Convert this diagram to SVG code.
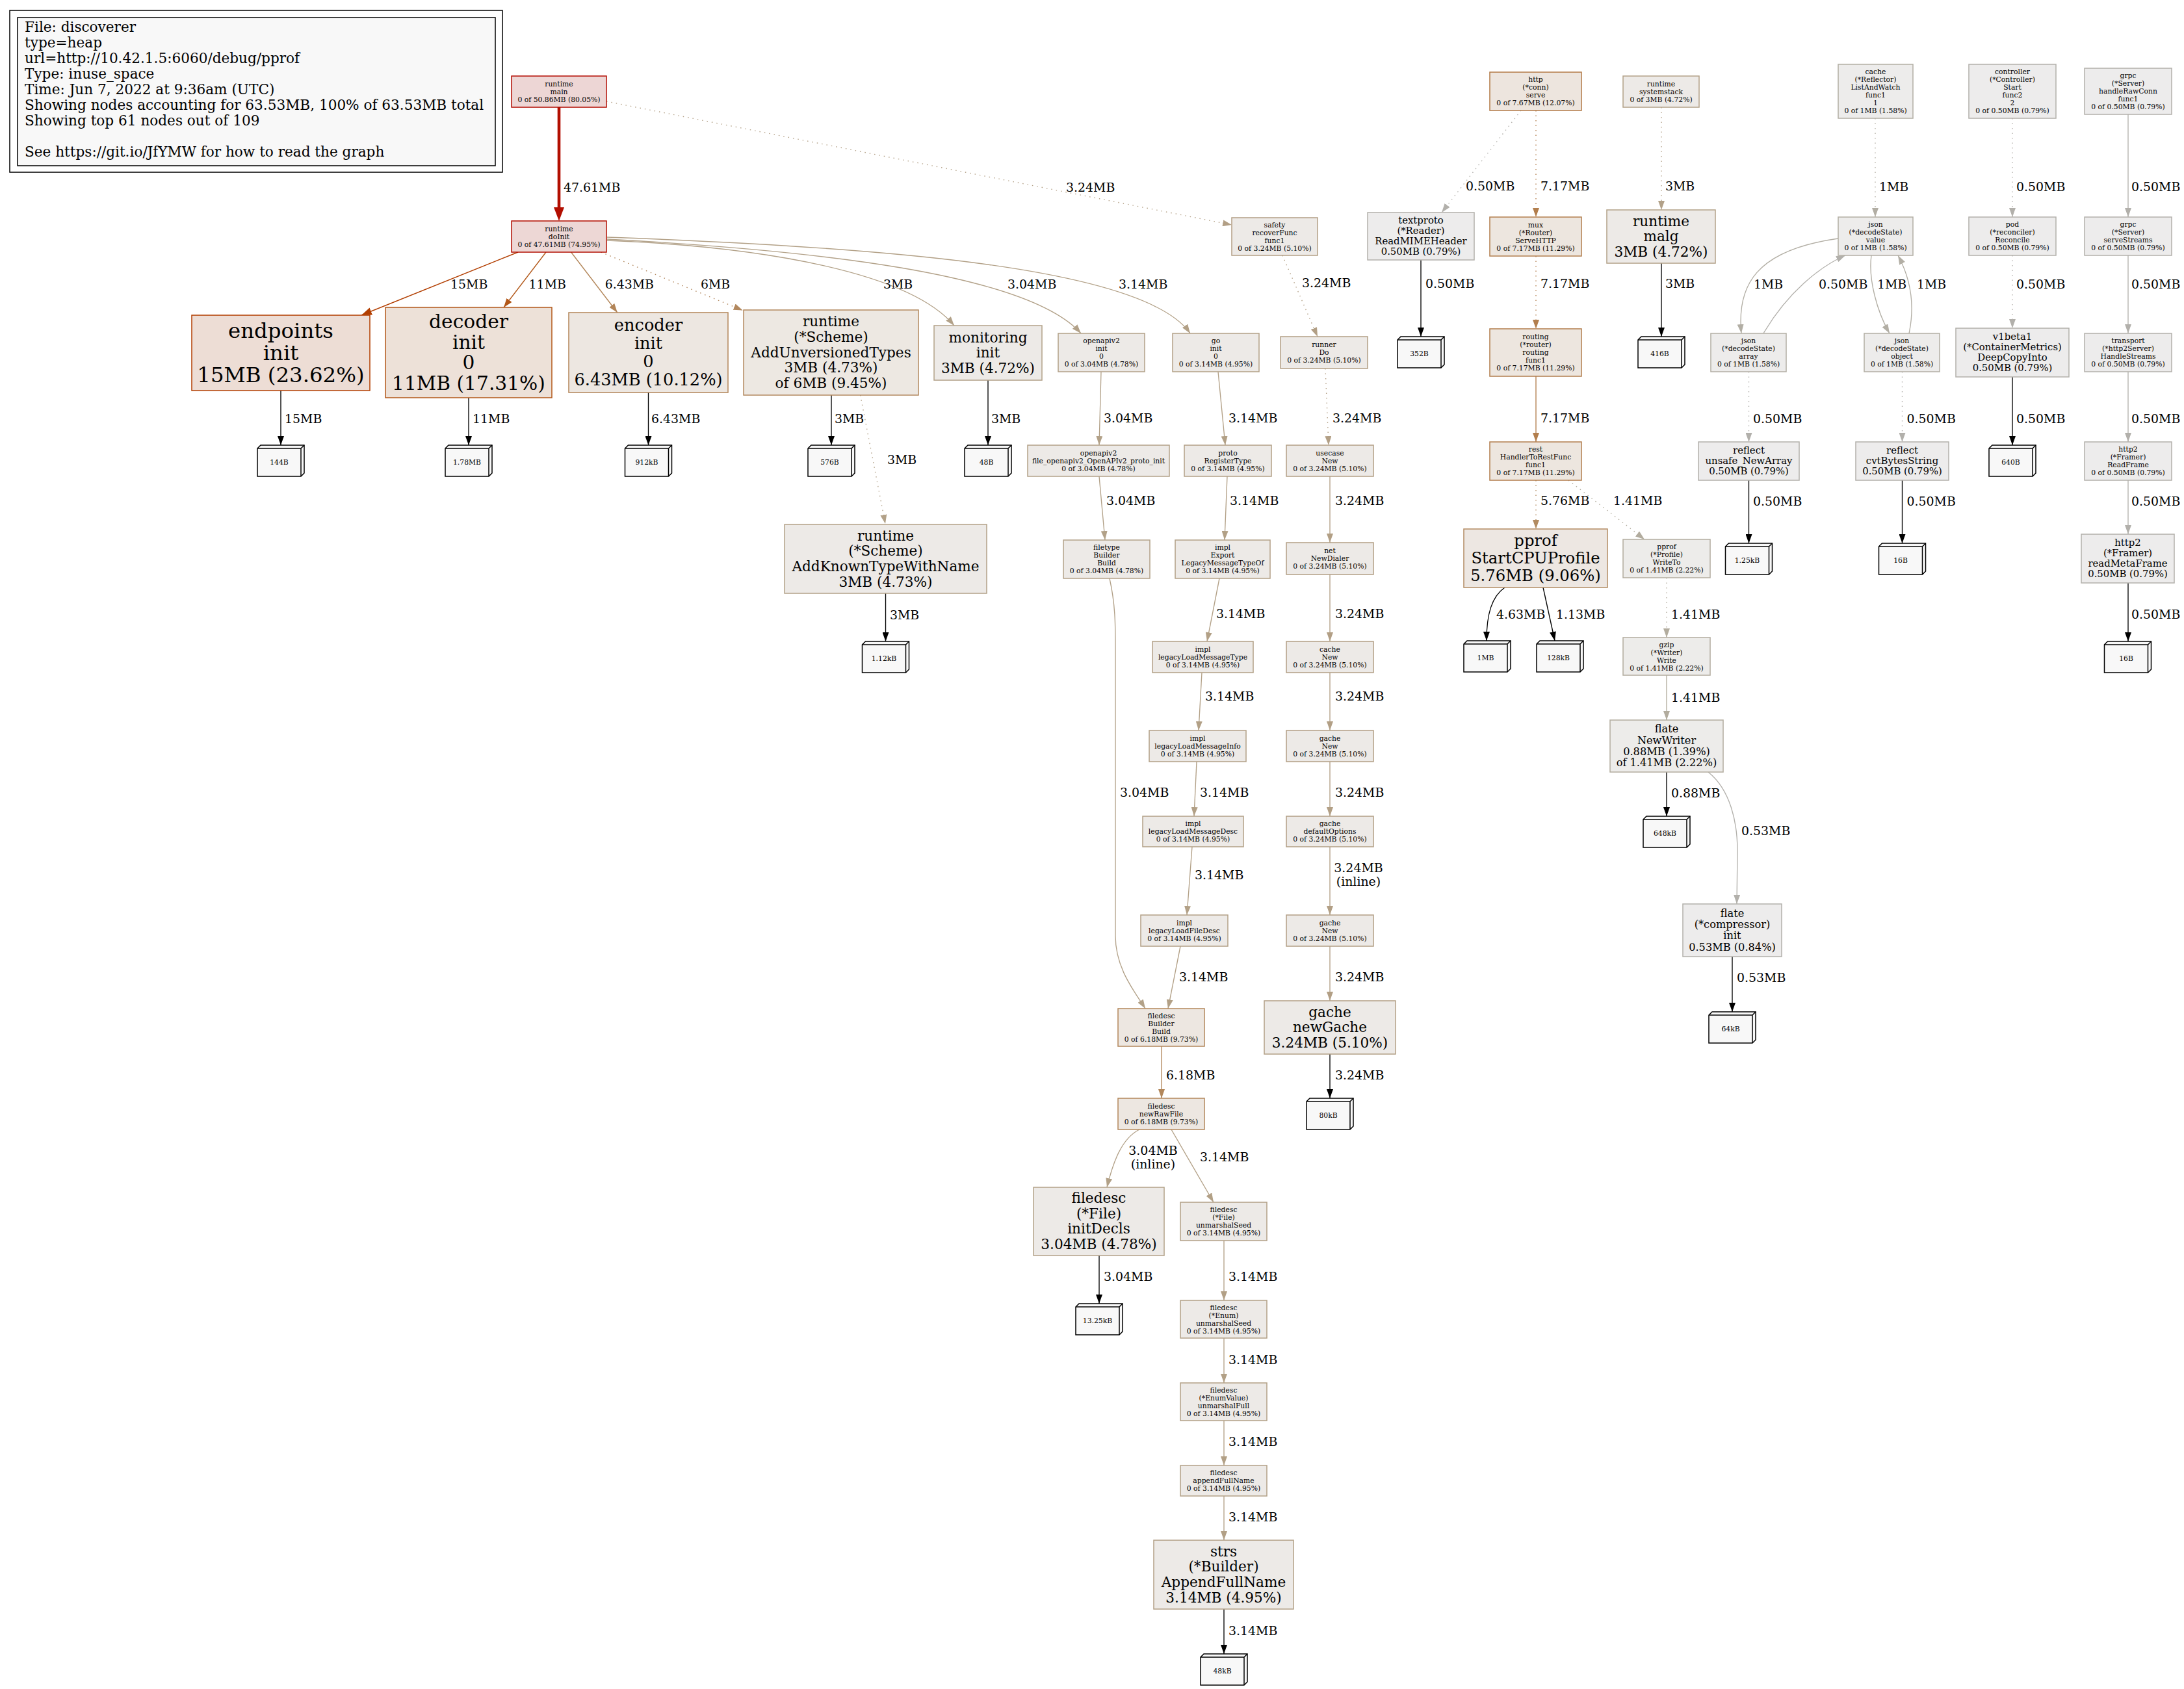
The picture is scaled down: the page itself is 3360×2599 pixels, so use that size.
<svg xmlns="http://www.w3.org/2000/svg" width="3360" height="2599" viewBox="0 0 3360 2599">
<style>
text{font-family:"DejaVu Serif","Liberation Serif",serif;fill:#000}
.node text{text-anchor:middle}
.node rect{stroke-width:1.5}
.f1{font-size:10.8px}.f2{font-size:14.85px}.f3{font-size:16.2px}.f4{font-size:21.6px}.f5{font-size:24.3px}.f6{font-size:25.65px}.f7{font-size:29.7px}.f8{font-size:32.4px}
.lg{font-size:21.6px}
.el{font-size:18.9px}
.elm{font-size:18.9px;text-anchor:middle}
.leaf path{fill:#f8f8f8;stroke:#000;stroke-width:1.5}
.leaf path.in{fill:none}
.leaf text{font-size:10.8px;text-anchor:middle}
.e{fill:none;stroke-width:1.35}
.d{stroke-dasharray:1.5,6}
.k{stroke:#000;marker-end:url(#m-k)}
</style>
<defs>
<marker id="m-k" markerUnits="userSpaceOnUse" viewBox="0 0 14 10" markerWidth="14" markerHeight="10" refX="14" refY="5" orient="auto"><path d="M0,0L14,5L0,10Z" fill="#000"/></marker>
<marker id="m-b23e00" markerUnits="userSpaceOnUse" viewBox="0 0 16 12" markerWidth="16" markerHeight="12" refX="16" refY="6" orient="auto"><path d="M0,0L16,6L0,12Z" fill="#b23e00"/></marker>
<marker id="m-b25718" markerUnits="userSpaceOnUse" viewBox="0 0 14 10" markerWidth="14" markerHeight="10" refX="14" refY="5" orient="auto"><path d="M0,0L14,5L0,10Z" fill="#b25718"/></marker>
<marker id="m-b28558" markerUnits="userSpaceOnUse" viewBox="0 0 14 10" markerWidth="14" markerHeight="10" refX="14" refY="5" orient="auto"><path d="M0,0L14,5L0,10Z" fill="#b28558"/></marker>
<marker id="m-b2885e" markerUnits="userSpaceOnUse" viewBox="0 0 14 10" markerWidth="14" markerHeight="10" refX="14" refY="5" orient="auto"><path d="M0,0L14,5L0,10Z" fill="#b2885e"/></marker>
<marker id="m-b2a188" markerUnits="userSpaceOnUse" viewBox="0 0 14 10" markerWidth="14" markerHeight="10" refX="14" refY="5" orient="auto"><path d="M0,0L14,5L0,10Z" fill="#b2a188"/></marker>
<marker id="m-b2a086" markerUnits="userSpaceOnUse" viewBox="0 0 14 10" markerWidth="14" markerHeight="10" refX="14" refY="5" orient="auto"><path d="M0,0L14,5L0,10Z" fill="#b2a086"/></marker>
<marker id="m-b29f85" markerUnits="userSpaceOnUse" viewBox="0 0 14 10" markerWidth="14" markerHeight="10" refX="14" refY="5" orient="auto"><path d="M0,0L14,5L0,10Z" fill="#b29f85"/></marker>
<marker id="m-b2875b" markerUnits="userSpaceOnUse" viewBox="0 0 14 10" markerWidth="14" markerHeight="10" refX="14" refY="5" orient="auto"><path d="M0,0L14,5L0,10Z" fill="#b2875b"/></marker>
<marker id="m-b27e4d" markerUnits="userSpaceOnUse" viewBox="0 0 14 10" markerWidth="14" markerHeight="10" refX="14" refY="5" orient="auto"><path d="M0,0L14,5L0,10Z" fill="#b27e4d"/></marker>
<marker id="m-b28b61" markerUnits="userSpaceOnUse" viewBox="0 0 14 10" markerWidth="14" markerHeight="10" refX="14" refY="5" orient="auto"><path d="M0,0L14,5L0,10Z" fill="#b28b61"/></marker>
<marker id="m-b2ac9e" markerUnits="userSpaceOnUse" viewBox="0 0 14 10" markerWidth="14" markerHeight="10" refX="14" refY="5" orient="auto"><path d="M0,0L14,5L0,10Z" fill="#b2ac9e"/></marker>
<marker id="m-b2aea4" markerUnits="userSpaceOnUse" viewBox="0 0 14 10" markerWidth="14" markerHeight="10" refX="14" refY="5" orient="auto"><path d="M0,0L14,5L0,10Z" fill="#b2aea4"/></marker>
<marker id="m-b2b0ab" markerUnits="userSpaceOnUse" viewBox="0 0 14 10" markerWidth="14" markerHeight="10" refX="14" refY="5" orient="auto"><path d="M0,0L14,5L0,10Z" fill="#b2b0ab"/></marker>
</defs>
<rect width="3360" height="2599" fill="#fff"/>

<g id="legend">
<rect x="15" y="16" width="758" height="249" fill="none" stroke="#000" stroke-width="1.5"/>
<rect x="27" y="27" width="735" height="228" fill="#f8f8f8" stroke="#000" stroke-width="1.5"/>
<text class="lg"><tspan x="38" y="49">File: discoverer</tspan><tspan x="38" y="73">type=heap</tspan><tspan x="38" y="97">url=http://10.42.1.5:6060/debug/pprof</tspan><tspan x="38" y="121">Type: inuse_space</tspan><tspan x="38" y="145">Time: Jun 7, 2022 at 9:36am (UTC)</tspan><tspan x="38" y="169">Showing nodes accounting for 63.53MB, 100% of 63.53MB total</tspan><tspan x="38" y="193">Showing top 61 nodes out of 109</tspan><tspan x="38" y="241">See https://git.io/JfYMW for how to read the graph</tspan></text>
</g>

<g id="edges">
<path d="M860,165L860,321" fill="none" stroke="#b20e00" stroke-width="4.6"/>
<polygon points="852,319 868,319 860,340" fill="#b20e00"/>
<text class="el" x="867" y="294.5">47.61MB</text>
<path class="e d" d="M933,156L1895,346" stroke="#b29f85" marker-end="url(#m-b29f85)"/>
<text class="el" x="1640" y="294.5">3.24MB</text>
<path class="e" d="M797,388L556,485" stroke="#b23e00" stroke-width="2.5" marker-end="url(#m-b23e00)"/>
<text class="el" x="693" y="444">15MB</text>
<path class="e" d="M840,388L775,473" stroke="#b25718" stroke-width="1.6" marker-end="url(#m-b25718)"/>
<text class="el" x="813.6" y="444">11MB</text>
<path class="e" d="M878.6,388L949.8,481" stroke="#b28558" marker-end="url(#m-b28558)"/>
<text class="el" x="930.7" y="444">6.43MB</text>
<path class="e d" d="M924.5,388L1142.6,477.5" stroke="#b2885e" marker-end="url(#m-b2885e)"/>
<text class="el" x="1078" y="444">6MB</text>
<path class="e" d="M934,370C1180,380 1400,420 1468,501" stroke="#b2a188" marker-end="url(#m-b2a188)"/>
<text class="el" x="1359" y="444">3MB</text>
<path class="e" d="M934,368C1250,385 1580,420 1663,513" stroke="#b2a188" marker-end="url(#m-b2a188)"/>
<text class="el" x="1550" y="444">3.04MB</text>
<path class="e" d="M934,365C1350,380 1760,410 1831,513" stroke="#b2a086" marker-end="url(#m-b2a086)"/>
<text class="el" x="1721" y="444">3.14MB</text>

<path class="e k" d="M432,601L432,685"/><text class="el" x="438" y="651">15MB</text>
<path class="e k" d="M721,612L721,685"/><text class="el" x="727" y="651">11MB</text>
<path class="e k" d="M997.5,604L997.5,685"/><text class="el" x="1002" y="651">6.43MB</text>
<path class="e k" d="M1279,608L1279,685"/><text class="el" x="1284" y="651">3MB</text>
<path class="e k" d="M1520,585L1520,685"/><text class="el" x="1525" y="651">3MB</text>
<path class="e d" d="M1323.6,608L1362,806" stroke="#b2a188" marker-end="url(#m-b2a188)"/>
<text class="el" x="1365" y="714">3MB</text>
<path class="e k" d="M1362.5,913L1362.5,987"/><text class="el" x="1369" y="953">3MB</text>

<path class="e d" d="M1973,393L2027,518" stroke="#b29f85" marker-end="url(#m-b29f85)"/>
<text class="el" x="2003" y="442">3.24MB</text>
<path class="e" d="M1694,572L1691,685" stroke="#b2a188" marker-end="url(#m-b2a188)"/>
<text class="el" x="1698" y="649.6">3.04MB</text>
<path class="e" d="M1874,572L1885,685" stroke="#b2a086" marker-end="url(#m-b2a086)"/>
<text class="el" x="1890" y="649.6">3.14MB</text>
<path class="e d" d="M2039,567L2044,685" stroke="#b29f85" marker-end="url(#m-b29f85)"/>
<text class="el" x="2050" y="649.6">3.24MB</text>
<path class="e" d="M1691,733L1700,831" stroke="#b2a188" marker-end="url(#m-b2a188)"/>
<text class="el" x="1702" y="777">3.04MB</text>
<path class="e" d="M1888,733L1884,831" stroke="#b2a086" marker-end="url(#m-b2a086)"/>
<text class="el" x="1892" y="777">3.14MB</text>
<path class="e" d="M2046,733L2046,835" stroke="#b29f85" marker-end="url(#m-b29f85)"/>
<text class="el" x="2054" y="777">3.24MB</text>
<path class="e" d="M1876,890L1857,987" stroke="#b2a086" marker-end="url(#m-b2a086)"/>
<text class="el" x="1871" y="951">3.14MB</text>
<path class="e" d="M2046,884L2046,987" stroke="#b29f85" marker-end="url(#m-b29f85)"/>
<text class="el" x="2054" y="951">3.24MB</text>
<path class="e" d="M1849,1035L1844,1124" stroke="#b2a086" marker-end="url(#m-b2a086)"/>
<text class="el" x="1854" y="1078">3.14MB</text>
<path class="e" d="M2046,1035L2046,1124" stroke="#b29f85" marker-end="url(#m-b29f85)"/>
<text class="el" x="2054" y="1078">3.24MB</text>
<path class="e" d="M1841,1172L1837,1256" stroke="#b2a086" marker-end="url(#m-b2a086)"/>
<text class="el" x="1846" y="1226">3.14MB</text>
<path class="e" d="M2046,1172L2046,1256" stroke="#b29f85" marker-end="url(#m-b29f85)"/>
<text class="el" x="2054" y="1226">3.24MB</text>
<path class="e" d="M1834,1303L1826,1408" stroke="#b2a086" marker-end="url(#m-b2a086)"/>
<text class="el" x="1838" y="1352.5">3.14MB</text>
<path class="e" d="M2046,1303L2046,1408" stroke="#b29f85" marker-end="url(#m-b29f85)"/>
<text class="elm" x="2090" y="1342">3.24MB</text>
<text class="elm" x="2090" y="1363">(inline)</text>
<path class="e" d="M1816,1456L1797,1552" stroke="#b2a086" marker-end="url(#m-b2a086)"/>
<text class="el" x="1814" y="1510">3.14MB</text>
<path class="e" d="M1707,890C1716,930 1716,960 1716,1000L1716,1440C1716,1490 1745,1525 1762,1552" stroke="#b2a188" marker-end="url(#m-b2a188)"/>
<text class="el" x="1723" y="1226">3.04MB</text>
<path class="e" d="M2046,1456L2046,1540" stroke="#b29f85" marker-end="url(#m-b29f85)"/>
<text class="el" x="2054" y="1510">3.24MB</text>
<path class="e" d="M1787,1610L1787,1690" stroke="#b2875b" marker-end="url(#m-b2875b)"/>
<text class="el" x="1794" y="1661">6.18MB</text>
<path class="e k" d="M2046,1622L2046,1690"/>
<text class="el" x="2054" y="1661">3.24MB</text>
<path class="e" d="M1753,1738C1725,1752 1712,1790 1703,1827" stroke="#b2a188" marker-end="url(#m-b2a188)"/>
<text class="elm" x="1774" y="1777">3.04MB</text>
<text class="elm" x="1774" y="1798">(inline)</text>
<path class="e" d="M1802,1738L1867,1850" stroke="#b2a086" marker-end="url(#m-b2a086)"/>
<text class="el" x="1846" y="1787">3.14MB</text>
<path class="e k" d="M1691,1932L1691,2006"/>
<text class="el" x="1698" y="1971">3.04MB</text>
<path class="e" d="M1883,1909L1883,2001" stroke="#b2a086" marker-end="url(#m-b2a086)"/>
<text class="el" x="1890" y="1971">3.14MB</text>
<path class="e" d="M1883,2059L1883,2128" stroke="#b2a086" marker-end="url(#m-b2a086)"/>
<text class="el" x="1890" y="2099">3.14MB</text>
<path class="e" d="M1883,2186L1883,2255" stroke="#b2a086" marker-end="url(#m-b2a086)"/>
<text class="el" x="1890" y="2225">3.14MB</text>
<path class="e" d="M1883,2302L1883,2370" stroke="#b2a086" marker-end="url(#m-b2a086)"/>
<text class="el" x="1890" y="2341">3.14MB</text>
<path class="e k" d="M1883,2476L1883,2545"/>
<text class="el" x="1890" y="2516">3.14MB</text>

<path class="e d" d="M2340,170L2218,327" stroke="#b2b0ab" marker-end="url(#m-b2b0ab)"/>
<text class="el" x="2255" y="293">0.50MB</text>
<path class="e d" d="M2363,170L2363,334" stroke="#b27e4d" marker-end="url(#m-b27e4d)"/>
<text class="el" x="2370" y="293">7.17MB</text>
<path class="e d" d="M2363,394L2363,506" stroke="#b27e4d" marker-end="url(#m-b27e4d)"/>
<text class="el" x="2370" y="443">7.17MB</text>
<path class="e" d="M2363,579L2363,680" stroke="#b27e4d" marker-end="url(#m-b27e4d)"/>
<text class="el" x="2370" y="650">7.17MB</text>
<path class="e d" d="M2363,739L2363,814" stroke="#b28b61" marker-end="url(#m-b28b61)"/>
<text class="el" x="2370" y="777">5.76MB</text>
<path class="e d" d="M2413,739L2530,830" stroke="#b2ac9e" marker-end="url(#m-b2ac9e)"/>
<text class="el" x="2482" y="777">1.41MB</text>
<path class="e k" d="M2315,904C2295,918 2287,945 2287,986"/>
<text class="el" x="2302" y="951.6">4.63MB</text>
<path class="e k" d="M2374,904L2392,986"/>
<text class="el" x="2394" y="951.6">1.13MB</text>
<path class="e d" d="M2564,889L2564,981" stroke="#b2ac9e" marker-end="url(#m-b2ac9e)"/>
<text class="el" x="2571" y="951.6">1.41MB</text>
<path class="e" d="M2564,1039L2564,1108" stroke="#b2ac9e" marker-end="url(#m-b2ac9e)"/>
<text class="el" x="2571" y="1079.5">1.41MB</text>
<path class="e k" d="M2564,1188L2564,1256"/>
<text class="el" x="2571" y="1227">0.88MB</text>
<path class="e" d="M2628,1188C2662,1215 2673,1265 2673,1310L2672,1391" stroke="#b2b0ab" marker-end="url(#m-b2b0ab)"/>
<text class="el" x="2679" y="1285">0.53MB</text>
<path class="e k" d="M2665,1472L2665,1557"/>
<text class="el" x="2672" y="1511">0.53MB</text>
<path class="e d" d="M2556,165L2556,323" stroke="#b2a188" marker-end="url(#m-b2a188)"/>
<text class="el" x="2562" y="293">3MB</text>
<path class="e k" d="M2556,405L2556,518"/>
<text class="el" x="2562" y="443">3MB</text>
<path class="e k" d="M2186,400L2186,518"/>
<text class="el" x="2193" y="443">0.50MB</text>

<path class="e d" d="M2885,182L2885,334" stroke="#b2aea4" marker-end="url(#m-b2aea4)"/>
<text class="el" x="2891" y="294">1MB</text>
<path class="e" d="M2828,367C2700,385 2672,440 2679,513" stroke="#b2aea4" marker-end="url(#m-b2aea4)"/>
<text class="el" x="2698" y="444">1MB</text>
<path class="e" d="M2713,513C2750,450 2800,410 2839,393" stroke="#b2b0ab" marker-end="url(#m-b2b0ab)"/>
<text class="el" x="2798" y="444">0.50MB</text>
<path class="e" d="M2879,393C2874,430 2888,480 2907,513" stroke="#b2aea4" marker-end="url(#m-b2aea4)"/>
<text class="el" x="2888" y="444">1MB</text>
<path class="e" d="M2937,513C2946,470 2940,430 2920,393" stroke="#b2aea4" marker-end="url(#m-b2aea4)"/>
<text class="el" x="2949" y="444">1MB</text>
<path class="e d" d="M3096,182L3096,334" stroke="#b2b0ab" marker-end="url(#m-b2b0ab)"/>
<text class="el" x="3102" y="294">0.50MB</text>
<path class="e" d="M3274,176L3274,334" stroke="#b2b0ab" marker-end="url(#m-b2b0ab)"/>
<text class="el" x="3279" y="294">0.50MB</text>
<path class="e d" d="M3096,393L3096,505" stroke="#b2b0ab" marker-end="url(#m-b2b0ab)"/>
<text class="el" x="3102" y="444">0.50MB</text>
<path class="e" d="M3274,393L3274,513" stroke="#b2b0ab" marker-end="url(#m-b2b0ab)"/>
<text class="el" x="3279" y="444">0.50MB</text>
<path class="e d" d="M2690.5,572L2690.5,680" stroke="#b2b0ab" marker-end="url(#m-b2b0ab)"/>
<text class="el" x="2697" y="651">0.50MB</text>
<path class="e d" d="M2926.5,572L2926.5,680" stroke="#b2b0ab" marker-end="url(#m-b2b0ab)"/>
<text class="el" x="2933.5" y="651">0.50MB</text>
<path class="e k" d="M3096,580L3096,685"/>
<text class="el" x="3102" y="651">0.50MB</text>
<path class="e" d="M3274,572L3274,680" stroke="#b2b0ab" marker-end="url(#m-b2b0ab)"/>
<text class="el" x="3279" y="651">0.50MB</text>
<path class="e k" d="M2690.5,739L2690.5,836"/>
<text class="el" x="2697" y="778">0.50MB</text>
<path class="e k" d="M2926.5,739L2926.5,836"/>
<text class="el" x="2933.5" y="778">0.50MB</text>
<path class="e" d="M3274,739L3274,822" stroke="#b2b0ab" marker-end="url(#m-b2b0ab)"/>
<text class="el" x="3279" y="778">0.50MB</text>
<path class="e k" d="M3274,897L3274,987"/>
<text class="el" x="3279" y="952">0.50MB</text>
</g>

<g id="n-runtime-main" class="node"><rect x="787" y="117" width="146" height="48" fill="#edd6d5" stroke="#b20b00"/><text class="f1"><tspan x="860" y="132.6">runtime</tspan><tspan x="860" y="144.6">main</tspan><tspan x="860" y="156.6">0 of 50.86MB (80.05%)</tspan></text></g>
<g id="n-runtime-doInit" class="node"><rect x="787" y="340" width="146" height="48" fill="#edd7d5" stroke="#b20e00"/><text class="f1"><tspan x="860" y="355.6">runtime</tspan><tspan x="860" y="367.6">doInit</tspan><tspan x="860" y="379.6">0 of 47.61MB (74.95%)</tspan></text></g>
<g id="n-endpoints-init" class="node"><rect x="295" y="485" width="274" height="116" fill="#edddd5" stroke="#b23e00" stroke-width="2"/><text class="f8"><tspan x="432" y="519.7">endpoints</tspan><tspan x="432" y="553.7">init</tspan><tspan x="432" y="587.7">15MB (23.62%)</tspan></text></g>
<g id="n-decoder-init" class="node"><rect x="593" y="473" width="256" height="139" fill="#ede1d8" stroke="#b25718" stroke-width="2"/><text class="f7"><tspan x="721" y="504.9">decoder</tspan><tspan x="721" y="536.5">init</tspan><tspan x="721" y="568.1">0</tspan><tspan x="721" y="599.7">11MB (17.31%)</tspan></text></g>
<g id="n-encoder-init" class="node"><rect x="875" y="481" width="245" height="123" fill="#ede7e1" stroke="#b28558"/><text class="f6"><tspan x="997.5" y="509.45">encoder</tspan><tspan x="997.5" y="537.15">init</tspan><tspan x="997.5" y="564.85">0</tspan><tspan x="997.5" y="592.55">6.43MB (10.12%)</tspan></text></g>
<g id="n-scheme-addunversioned" class="node"><rect x="1144" y="477" width="269" height="131" fill="#ede8e2" stroke="#b2885e"/><text class="f4"><tspan x="1278.5" y="502.4">runtime</tspan><tspan x="1278.5" y="526">(*Scheme)</tspan><tspan x="1278.5" y="549.6">AddUnversionedTypes</tspan><tspan x="1278.5" y="573.2">3MB (4.73%)</tspan><tspan x="1278.5" y="596.8">of 6MB (9.45%)</tspan></text></g>
<g id="n-monitoring-init" class="node"><rect x="1437" y="501" width="166" height="84" fill="#edeae7" stroke="#b2a188"/><text class="f4"><tspan x="1520" y="526.5">monitoring</tspan><tspan x="1520" y="550.1">init</tspan><tspan x="1520" y="573.7">3MB (4.72%)</tspan></text></g>
<g id="n-openapiv2-init" class="node"><rect x="1628" y="513" width="133" height="59" fill="#edeae7" stroke="#b2a188"/><text class="f1"><tspan x="1694.5" y="528.1">openapiv2</tspan><tspan x="1694.5" y="540.1">init</tspan><tspan x="1694.5" y="552.1">0</tspan><tspan x="1694.5" y="564.1">0 of 3.04MB (4.78%)</tspan></text></g>
<g id="n-go-init" class="node"><rect x="1804" y="513" width="133" height="59" fill="#edeae7" stroke="#b2a086"/><text class="f1"><tspan x="1870.5" y="528.1">go</tspan><tspan x="1870.5" y="540.1">init</tspan><tspan x="1870.5" y="552.1">0</tspan><tspan x="1870.5" y="564.1">0 of 3.14MB (4.95%)</tspan></text></g>
<g id="n-safety-recoverfunc" class="node"><rect x="1895" y="335" width="132" height="58" fill="#edeae7" stroke="#b29f85"/><text class="f1"><tspan x="1961" y="349.6">safety</tspan><tspan x="1961" y="361.6">recoverFunc</tspan><tspan x="1961" y="373.6">func1</tspan><tspan x="1961" y="385.6">0 of 3.24MB (5.10%)</tspan></text></g>
<g id="n-runner-do" class="node"><rect x="1970" y="518" width="134" height="49" fill="#edeae7" stroke="#b29f85"/><text class="f1"><tspan x="2037" y="534.1">runner</tspan><tspan x="2037" y="546.1">Do</tspan><tspan x="2037" y="558.1">0 of 3.24MB (5.10%)</tspan></text></g>
<g id="n-openapiv2-protoinit" class="node"><rect x="1581" y="685" width="218" height="48" fill="#edeae7" stroke="#b2a188"/><text class="f1"><tspan x="1690" y="700.6">openapiv2</tspan><tspan x="1690" y="712.6">file_openapiv2_OpenAPIv2_proto_init</tspan><tspan x="1690" y="724.6">0 of 3.04MB (4.78%)</tspan></text></g>
<g id="n-proto-registertype" class="node"><rect x="1822" y="685" width="134" height="48" fill="#edeae7" stroke="#b2a086"/><text class="f1"><tspan x="1889" y="700.6">proto</tspan><tspan x="1889" y="712.6">RegisterType</tspan><tspan x="1889" y="724.6">0 of 3.14MB (4.95%)</tspan></text></g>
<g id="n-usecase-new" class="node"><rect x="1979" y="685" width="134" height="48" fill="#edeae7" stroke="#b29f85"/><text class="f1"><tspan x="2046" y="700.6">usecase</tspan><tspan x="2046" y="712.6">New</tspan><tspan x="2046" y="724.6">0 of 3.24MB (5.10%)</tspan></text></g>
<g id="n-filetype-build" class="node"><rect x="1636" y="831" width="133" height="59" fill="#edeae7" stroke="#b2a188"/><text class="f1"><tspan x="1702.5" y="846.1">filetype</tspan><tspan x="1702.5" y="858.1">Builder</tspan><tspan x="1702.5" y="870.1">Build</tspan><tspan x="1702.5" y="882.1">0 of 3.04MB (4.78%)</tspan></text></g>
<g id="n-impl-export" class="node"><rect x="1808" y="831" width="146" height="59" fill="#edeae7" stroke="#b2a086"/><text class="f1"><tspan x="1881" y="846.1">impl</tspan><tspan x="1881" y="858.1">Export</tspan><tspan x="1881" y="870.1">LegacyMessageTypeOf</tspan><tspan x="1881" y="882.1">0 of 3.14MB (4.95%)</tspan></text></g>
<g id="n-net-newdialer" class="node"><rect x="1979" y="835" width="134" height="49" fill="#edeae7" stroke="#b29f85"/><text class="f1"><tspan x="2046" y="851.1">net</tspan><tspan x="2046" y="863.1">NewDialer</tspan><tspan x="2046" y="875.1">0 of 3.24MB (5.10%)</tspan></text></g>
<g id="n-impl-msgtype" class="node"><rect x="1773" y="987" width="155" height="48" fill="#edeae7" stroke="#b2a086"/><text class="f1"><tspan x="1850.5" y="1002.6">impl</tspan><tspan x="1850.5" y="1014.6">legacyLoadMessageType</tspan><tspan x="1850.5" y="1026.6">0 of 3.14MB (4.95%)</tspan></text></g>
<g id="n-cache-new" class="node"><rect x="1979" y="987" width="134" height="48" fill="#edeae7" stroke="#b29f85"/><text class="f1"><tspan x="2046" y="1002.6">cache</tspan><tspan x="2046" y="1014.6">New</tspan><tspan x="2046" y="1026.6">0 of 3.24MB (5.10%)</tspan></text></g>
<g id="n-impl-msginfo" class="node"><rect x="1768" y="1124" width="149" height="48" fill="#edeae7" stroke="#b2a086"/><text class="f1"><tspan x="1842.5" y="1139.6">impl</tspan><tspan x="1842.5" y="1151.6">legacyLoadMessageInfo</tspan><tspan x="1842.5" y="1163.6">0 of 3.14MB (4.95%)</tspan></text></g>
<g id="n-gache-new-1" class="node"><rect x="1979" y="1124" width="134" height="48" fill="#edeae7" stroke="#b29f85"/><text class="f1"><tspan x="2046" y="1139.6">gache</tspan><tspan x="2046" y="1151.6">New</tspan><tspan x="2046" y="1163.6">0 of 3.24MB (5.10%)</tspan></text></g>
<g id="n-impl-msgdesc" class="node"><rect x="1758" y="1256" width="155" height="47" fill="#edeae7" stroke="#b2a086"/><text class="f1"><tspan x="1835.5" y="1271.1">impl</tspan><tspan x="1835.5" y="1283.1">legacyLoadMessageDesc</tspan><tspan x="1835.5" y="1295.1">0 of 3.14MB (4.95%)</tspan></text></g>
<g id="n-gache-defaultoptions" class="node"><rect x="1979" y="1256" width="134" height="47" fill="#edeae7" stroke="#b29f85"/><text class="f1"><tspan x="2046" y="1271.1">gache</tspan><tspan x="2046" y="1283.1">defaultOptions</tspan><tspan x="2046" y="1295.1">0 of 3.24MB (5.10%)</tspan></text></g>
<g id="n-impl-filedesc" class="node"><rect x="1755" y="1408" width="134" height="48" fill="#edeae7" stroke="#b2a086"/><text class="f1"><tspan x="1822" y="1423.6">impl</tspan><tspan x="1822" y="1435.6">legacyLoadFileDesc</tspan><tspan x="1822" y="1447.6">0 of 3.14MB (4.95%)</tspan></text></g>
<g id="n-gache-new-2" class="node"><rect x="1979" y="1408" width="134" height="48" fill="#edeae7" stroke="#b29f85"/><text class="f1"><tspan x="2046" y="1423.6">gache</tspan><tspan x="2046" y="1435.6">New</tspan><tspan x="2046" y="1447.6">0 of 3.24MB (5.10%)</tspan></text></g>
<g id="n-gache-newgache" class="node"><rect x="1945" y="1540" width="202" height="82" fill="#edeae7" stroke="#b29f85"/><text class="f4"><tspan x="2046" y="1564.5">gache</tspan><tspan x="2046" y="1588.1">newGache</tspan><tspan x="2046" y="1611.7">3.24MB (5.10%)</tspan></text></g>
<g id="n-filedesc-build" class="node"><rect x="1720" y="1552" width="133" height="58" fill="#ede7e1" stroke="#b2875b"/><text class="f1"><tspan x="1786.5" y="1566.6">filedesc</tspan><tspan x="1786.5" y="1578.6">Builder</tspan><tspan x="1786.5" y="1590.6">Build</tspan><tspan x="1786.5" y="1602.6">0 of 6.18MB (9.73%)</tspan></text></g>
<g id="n-filedesc-newrawfile" class="node"><rect x="1720" y="1690" width="133" height="48" fill="#ede7e1" stroke="#b2875b"/><text class="f1"><tspan x="1786.5" y="1705.6">filedesc</tspan><tspan x="1786.5" y="1717.6">newRawFile</tspan><tspan x="1786.5" y="1729.6">0 of 6.18MB (9.73%)</tspan></text></g>
<g id="n-filedesc-initdecls" class="node"><rect x="1590" y="1827" width="201" height="105" fill="#edeae7" stroke="#b2a188"/><text class="f4"><tspan x="1690.5" y="1851.2">filedesc</tspan><tspan x="1690.5" y="1874.8">(*File)</tspan><tspan x="1690.5" y="1898.4">initDecls</tspan><tspan x="1690.5" y="1922">3.04MB (4.78%)</tspan></text></g>
<g id="n-filedesc-file-unmarshalseed" class="node"><rect x="1816" y="1850" width="133" height="59" fill="#edeae7" stroke="#b2a086"/><text class="f1"><tspan x="1882.5" y="1865.1">filedesc</tspan><tspan x="1882.5" y="1877.1">(*File)</tspan><tspan x="1882.5" y="1889.1">unmarshalSeed</tspan><tspan x="1882.5" y="1901.1">0 of 3.14MB (4.95%)</tspan></text></g>
<g id="n-filedesc-enum-unmarshalseed" class="node"><rect x="1816" y="2001" width="133" height="58" fill="#edeae7" stroke="#b2a086"/><text class="f1"><tspan x="1882.5" y="2015.6">filedesc</tspan><tspan x="1882.5" y="2027.6">(*Enum)</tspan><tspan x="1882.5" y="2039.6">unmarshalSeed</tspan><tspan x="1882.5" y="2051.6">0 of 3.14MB (4.95%)</tspan></text></g>
<g id="n-filedesc-enumvalue-unmarshalfull" class="node"><rect x="1816" y="2128" width="133" height="58" fill="#edeae7" stroke="#b2a086"/><text class="f1"><tspan x="1882.5" y="2142.6">filedesc</tspan><tspan x="1882.5" y="2154.6">(*EnumValue)</tspan><tspan x="1882.5" y="2166.6">unmarshalFull</tspan><tspan x="1882.5" y="2178.6">0 of 3.14MB (4.95%)</tspan></text></g>
<g id="n-filedesc-appendfullname" class="node"><rect x="1816" y="2255" width="133" height="47" fill="#edeae7" stroke="#b2a086"/><text class="f1"><tspan x="1882.5" y="2270.1">filedesc</tspan><tspan x="1882.5" y="2282.1">appendFullName</tspan><tspan x="1882.5" y="2294.1">0 of 3.14MB (4.95%)</tspan></text></g>
<g id="n-strs-appendfullname" class="node"><rect x="1775" y="2370" width="215" height="106" fill="#edeae7" stroke="#b2a086"/><text class="f4"><tspan x="1882.5" y="2394.7">strs</tspan><tspan x="1882.5" y="2418.3">(*Builder)</tspan><tspan x="1882.5" y="2441.9">AppendFullName</tspan><tspan x="1882.5" y="2465.5">3.14MB (4.95%)</tspan></text></g>
<g id="n-scheme-addknowntype" class="node"><rect x="1207" y="807" width="311" height="106" fill="#edeae7" stroke="#b2a188"/><text class="f4"><tspan x="1362.5" y="831.7">runtime</tspan><tspan x="1362.5" y="855.3">(*Scheme)</tspan><tspan x="1362.5" y="878.9">AddKnownTypeWithName</tspan><tspan x="1362.5" y="902.5">3MB (4.73%)</tspan></text></g>

<g id="n-http-conn-serve" class="node"><rect x="2292" y="111" width="141" height="59" fill="#ede5de" stroke="#b27946"/><text class="f1"><tspan x="2362.5" y="126.1">http</tspan><tspan x="2362.5" y="138.1">(*conn)</tspan><tspan x="2362.5" y="150.1">serve</tspan><tspan x="2362.5" y="162.1">0 of 7.67MB (12.07%)</tspan></text></g>
<g id="n-textproto-readmimeheader" class="node"><rect x="2104" y="327" width="164" height="73" fill="#edecec" stroke="#b2b0ab"/><text class="f2"><tspan x="2186" y="344.4">textproto</tspan><tspan x="2186" y="360.4">(*Reader)</tspan><tspan x="2186" y="376.4">ReadMIMEHeader</tspan><tspan x="2186" y="392.4">0.50MB (0.79%)</tspan></text></g>
<g id="n-mux-servehttp" class="node"><rect x="2292" y="334" width="141" height="60" fill="#ede6df" stroke="#b27e4d"/><text class="f1"><tspan x="2362.5" y="349.6">mux</tspan><tspan x="2362.5" y="361.6">(*Router)</tspan><tspan x="2362.5" y="373.6">ServeHTTP</tspan><tspan x="2362.5" y="385.6">0 of 7.17MB (11.29%)</tspan></text></g>
<g id="n-routing-func1" class="node"><rect x="2292" y="506" width="141" height="73" fill="#ede6df" stroke="#b27e4d"/><text class="f1"><tspan x="2362.5" y="522.1">routing</tspan><tspan x="2362.5" y="534.1">(*router)</tspan><tspan x="2362.5" y="546.1">routing</tspan><tspan x="2362.5" y="558.1">func1</tspan><tspan x="2362.5" y="570.1">0 of 7.17MB (11.29%)</tspan></text></g>
<g id="n-rest-handler" class="node"><rect x="2292" y="680" width="141" height="59" fill="#ede6df" stroke="#b27e4d"/><text class="f1"><tspan x="2362.5" y="695.1">rest</tspan><tspan x="2362.5" y="707.1">HandlerToRestFunc</tspan><tspan x="2362.5" y="719.1">func1</tspan><tspan x="2362.5" y="731.1">0 of 7.17MB (11.29%)</tspan></text></g>
<g id="n-pprof-startcpuprofile" class="node"><rect x="2252" y="814" width="221" height="90" fill="#ede7e2" stroke="#b28b61"/><text class="f5"><tspan x="2362.5" y="840">pprof</tspan><tspan x="2362.5" y="867">StartCPUProfile</tspan><tspan x="2362.5" y="894">5.76MB (9.06%)</tspan></text></g>
<g id="n-pprof-writeto" class="node"><rect x="2497" y="830" width="134" height="59" fill="#edecea" stroke="#b2ac9e"/><text class="f1"><tspan x="2564" y="845.1">pprof</tspan><tspan x="2564" y="857.1">(*Profile)</tspan><tspan x="2564" y="869.1">WriteTo</tspan><tspan x="2564" y="881.1">0 of 1.41MB (2.22%)</tspan></text></g>
<g id="n-gzip-write" class="node"><rect x="2497" y="981" width="134" height="58" fill="#edecea" stroke="#b2ac9e"/><text class="f1"><tspan x="2564" y="995.6">gzip</tspan><tspan x="2564" y="1007.6">(*Writer)</tspan><tspan x="2564" y="1019.6">Write</tspan><tspan x="2564" y="1031.6">0 of 1.41MB (2.22%)</tspan></text></g>
<g id="n-flate-newwriter" class="node"><rect x="2477" y="1108" width="174" height="80" fill="#edecea" stroke="#b2ac9e"/><text class="f3"><tspan x="2564" y="1127.35">flate</tspan><tspan x="2564" y="1144.65">NewWriter</tspan><tspan x="2564" y="1161.95">0.88MB (1.39%)</tspan><tspan x="2564" y="1179.25">of 1.41MB (2.22%)</tspan></text></g>
<g id="n-flate-compressor-init" class="node"><rect x="2589" y="1391" width="152" height="81" fill="#edecec" stroke="#b2b0ab"/><text class="f3"><tspan x="2665" y="1410.85">flate</tspan><tspan x="2665" y="1428.15">(*compressor)</tspan><tspan x="2665" y="1445.45">init</tspan><tspan x="2665" y="1462.75">0.53MB (0.84%)</tspan></text></g>
<g id="n-runtime-systemstack" class="node"><rect x="2497" y="117" width="117" height="48" fill="#edeae7" stroke="#b2a188"/><text class="f1"><tspan x="2555.5" y="132.6">runtime</tspan><tspan x="2555.5" y="144.6">systemstack</tspan><tspan x="2555.5" y="156.6">0 of 3MB (4.72%)</tspan></text></g>
<g id="n-runtime-malg" class="node"><rect x="2472" y="323" width="167" height="82" fill="#edeae7" stroke="#b2a188"/><text class="f4"><tspan x="2555.5" y="347.5">runtime</tspan><tspan x="2555.5" y="371.1">malg</tspan><tspan x="2555.5" y="394.7">3MB (4.72%)</tspan></text></g>
<g id="n-cache-listandwatch" class="node"><rect x="2828" y="99" width="115" height="83" fill="#edeceb" stroke="#b2aea4"/><text class="f1"><tspan x="2885.5" y="114.1">cache</tspan><tspan x="2885.5" y="126.1">(*Reflector)</tspan><tspan x="2885.5" y="138.1">ListAndWatch</tspan><tspan x="2885.5" y="150.1">func1</tspan><tspan x="2885.5" y="162.1">1</tspan><tspan x="2885.5" y="174.1">0 of 1MB (1.58%)</tspan></text></g>
<g id="n-json-value" class="node"><rect x="2828" y="334" width="115" height="59" fill="#edeceb" stroke="#b2aea4"/><text class="f1"><tspan x="2885.5" y="349.1">json</tspan><tspan x="2885.5" y="361.1">(*decodeState)</tspan><tspan x="2885.5" y="373.1">value</tspan><tspan x="2885.5" y="385.1">0 of 1MB (1.58%)</tspan></text></g>
<g id="n-json-array" class="node"><rect x="2632" y="513" width="116" height="59" fill="#edeceb" stroke="#b2aea4"/><text class="f1"><tspan x="2690" y="528.1">json</tspan><tspan x="2690" y="540.1">(*decodeState)</tspan><tspan x="2690" y="552.1">array</tspan><tspan x="2690" y="564.1">0 of 1MB (1.58%)</tspan></text></g>
<g id="n-json-object" class="node"><rect x="2868" y="513" width="116" height="59" fill="#edeceb" stroke="#b2aea4"/><text class="f1"><tspan x="2926" y="528.1">json</tspan><tspan x="2926" y="540.1">(*decodeState)</tspan><tspan x="2926" y="552.1">object</tspan><tspan x="2926" y="564.1">0 of 1MB (1.58%)</tspan></text></g>
<g id="n-reflect-unsafenewarray" class="node"><rect x="2613" y="680" width="155" height="59" fill="#edecec" stroke="#b2b0ab"/><text class="f2"><tspan x="2690.5" y="698.4">reflect</tspan><tspan x="2690.5" y="714.4">unsafe_NewArray</tspan><tspan x="2690.5" y="730.4">0.50MB (0.79%)</tspan></text></g>
<g id="n-reflect-cvtbytesstring" class="node"><rect x="2855" y="680" width="143" height="59" fill="#edecec" stroke="#b2b0ab"/><text class="f2"><tspan x="2926.5" y="698.4">reflect</tspan><tspan x="2926.5" y="714.4">cvtBytesString</tspan><tspan x="2926.5" y="730.4">0.50MB (0.79%)</tspan></text></g>
<g id="n-controller-start" class="node"><rect x="3029" y="99" width="134" height="83" fill="#edecec" stroke="#b2b0ab"/><text class="f1"><tspan x="3096" y="114.1">controller</tspan><tspan x="3096" y="126.1">(*Controller)</tspan><tspan x="3096" y="138.1">Start</tspan><tspan x="3096" y="150.1">func2</tspan><tspan x="3096" y="162.1">2</tspan><tspan x="3096" y="174.1">0 of 0.50MB (0.79%)</tspan></text></g>
<g id="n-pod-reconcile" class="node"><rect x="3029" y="334" width="134" height="59" fill="#edecec" stroke="#b2b0ab"/><text class="f1"><tspan x="3096" y="349.1">pod</tspan><tspan x="3096" y="361.1">(*reconciler)</tspan><tspan x="3096" y="373.1">Reconcile</tspan><tspan x="3096" y="385.1">0 of 0.50MB (0.79%)</tspan></text></g>
<g id="n-v1beta1-deepcopyinto" class="node"><rect x="3009" y="505" width="174" height="75" fill="#edecec" stroke="#b2b0ab"/><text class="f2"><tspan x="3096" y="523.4">v1beta1</tspan><tspan x="3096" y="539.4">(*ContainerMetrics)</tspan><tspan x="3096" y="555.4">DeepCopyInto</tspan><tspan x="3096" y="571.4">0.50MB (0.79%)</tspan></text></g>
<g id="n-grpc-handlerawconn" class="node"><rect x="3207" y="105" width="134" height="71" fill="#edecec" stroke="#b2b0ab"/><text class="f1"><tspan x="3274" y="120.1">grpc</tspan><tspan x="3274" y="132.1">(*Server)</tspan><tspan x="3274" y="144.1">handleRawConn</tspan><tspan x="3274" y="156.1">func1</tspan><tspan x="3274" y="168.1">0 of 0.50MB (0.79%)</tspan></text></g>
<g id="n-grpc-servestreams" class="node"><rect x="3207" y="334" width="134" height="59" fill="#edecec" stroke="#b2b0ab"/><text class="f1"><tspan x="3274" y="349.1">grpc</tspan><tspan x="3274" y="361.1">(*Server)</tspan><tspan x="3274" y="373.1">serveStreams</tspan><tspan x="3274" y="385.1">0 of 0.50MB (0.79%)</tspan></text></g>
<g id="n-transport-handlestreams" class="node"><rect x="3207" y="513" width="134" height="59" fill="#edecec" stroke="#b2b0ab"/><text class="f1"><tspan x="3274" y="528.1">transport</tspan><tspan x="3274" y="540.1">(*http2Server)</tspan><tspan x="3274" y="552.1">HandleStreams</tspan><tspan x="3274" y="564.1">0 of 0.50MB (0.79%)</tspan></text></g>
<g id="n-http2-readframe" class="node"><rect x="3207" y="680" width="134" height="59" fill="#edecec" stroke="#b2b0ab"/><text class="f1"><tspan x="3274" y="695.1">http2</tspan><tspan x="3274" y="707.1">(*Framer)</tspan><tspan x="3274" y="719.1">ReadFrame</tspan><tspan x="3274" y="731.1">0 of 0.50MB (0.79%)</tspan></text></g>
<g id="n-http2-readmetaframe" class="node"><rect x="3202" y="822" width="143" height="75" fill="#edecec" stroke="#b2b0ab"/><text class="f2"><tspan x="3273.5" y="840.4">http2</tspan><tspan x="3273.5" y="856.4">(*Framer)</tspan><tspan x="3273.5" y="872.4">readMetaFrame</tspan><tspan x="3273.5" y="888.4">0.50MB (0.79%)</tspan></text></g>

<g id="leaf-144B" class="leaf"><path d="M396,690L401,685L468,685L468,728L463,733L396,733Z"/><path class="in" d="M396,690L463,690L463,733M463,690L468,685"/><text x="429.5" y="715">144B</text></g>
<g id="leaf-1.78MB" class="leaf"><path d="M685,690L690,685L757,685L757,728L752,733L685,733Z"/><path class="in" d="M685,690L752,690L752,733M752,690L757,685"/><text x="718.5" y="715">1.78MB</text></g>
<g id="leaf-912kB" class="leaf"><path d="M961.5,690L966.5,685L1033.5,685L1033.5,728L1028.5,733L961.5,733Z"/><path class="in" d="M961.5,690L1028.5,690L1028.5,733M1028.5,690L1033.5,685"/><text x="995" y="715">912kB</text></g>
<g id="leaf-576B" class="leaf"><path d="M1243,690L1248,685L1315,685L1315,728L1310,733L1243,733Z"/><path class="in" d="M1243,690L1310,690L1310,733M1310,690L1315,685"/><text x="1276.5" y="715">576B</text></g>
<g id="leaf-48B" class="leaf"><path d="M1484,690L1489,685L1556,685L1556,728L1551,733L1484,733Z"/><path class="in" d="M1484,690L1551,690L1551,733M1551,690L1556,685"/><text x="1517.5" y="715">48B</text></g>
<g id="leaf-1.12kB" class="leaf"><path d="M1326.5,992L1331.5,987L1398.5,987L1398.5,1030L1393.5,1035L1326.5,1035Z"/><path class="in" d="M1326.5,992L1393.5,992L1393.5,1035M1393.5,992L1398.5,987"/><text x="1360" y="1017">1.12kB</text></g>
<g id="leaf-13.25kB" class="leaf"><path d="M1655,2011L1660,2006L1727,2006L1727,2049L1722,2054L1655,2054Z"/><path class="in" d="M1655,2011L1722,2011L1722,2054M1722,2011L1727,2006"/><text x="1688.5" y="2036">13.25kB</text></g>
<g id="leaf-48kB" class="leaf"><path d="M1847,2550L1852,2545L1919,2545L1919,2588L1914,2593L1847,2593Z"/><path class="in" d="M1847,2550L1914,2550L1914,2593M1914,2550L1919,2545"/><text x="1880.5" y="2575">48kB</text></g>
<g id="leaf-80kB" class="leaf"><path d="M2010,1695L2015,1690L2082,1690L2082,1733L2077,1738L2010,1738Z"/><path class="in" d="M2010,1695L2077,1695L2077,1738M2077,1695L2082,1690"/><text x="2043.5" y="1720">80kB</text></g>
<g id="leaf-352B" class="leaf"><path d="M2150,523L2155,518L2222,518L2222,561L2217,566L2150,566Z"/><path class="in" d="M2150,523L2217,523L2217,566M2217,523L2222,518"/><text x="2183.5" y="548">352B</text></g>
<g id="leaf-416B" class="leaf"><path d="M2520,523L2525,518L2592,518L2592,561L2587,566L2520,566Z"/><path class="in" d="M2520,523L2587,523L2587,566M2587,523L2592,518"/><text x="2553.5" y="548">416B</text></g>
<g id="leaf-1MB" class="leaf"><path d="M2252,991L2257,986L2324,986L2324,1029L2319,1034L2252,1034Z"/><path class="in" d="M2252,991L2319,991L2319,1034M2319,991L2324,986"/><text x="2285.5" y="1016">1MB</text></g>
<g id="leaf-128kB" class="leaf"><path d="M2364,991L2369,986L2436,986L2436,1029L2431,1034L2364,1034Z"/><path class="in" d="M2364,991L2431,991L2431,1034M2431,991L2436,986"/><text x="2397.5" y="1016">128kB</text></g>
<g id="leaf-1.25kB" class="leaf"><path d="M2654.5,841L2659.5,836L2726.5,836L2726.5,879L2721.5,884L2654.5,884Z"/><path class="in" d="M2654.5,841L2721.5,841L2721.5,884M2721.5,841L2726.5,836"/><text x="2688" y="866">1.25kB</text></g>
<g id="leaf-16B-a" class="leaf"><path d="M2890.5,841L2895.5,836L2962.5,836L2962.5,879L2957.5,884L2890.5,884Z"/><path class="in" d="M2890.5,841L2957.5,841L2957.5,884M2957.5,841L2962.5,836"/><text x="2924" y="866">16B</text></g>
<g id="leaf-640B" class="leaf"><path d="M3060,690L3065,685L3132,685L3132,728L3127,733L3060,733Z"/><path class="in" d="M3060,690L3127,690L3127,733M3127,690L3132,685"/><text x="3093.5" y="715">640B</text></g>
<g id="leaf-16B-b" class="leaf"><path d="M3237.5,992L3242.5,987L3309.5,987L3309.5,1030L3304.5,1035L3237.5,1035Z"/><path class="in" d="M3237.5,992L3304.5,992L3304.5,1035M3304.5,992L3309.5,987"/><text x="3271" y="1017">16B</text></g>
<g id="leaf-648kB" class="leaf"><path d="M2528,1261L2533,1256L2600,1256L2600,1299L2595,1304L2528,1304Z"/><path class="in" d="M2528,1261L2595,1261L2595,1304M2595,1261L2600,1256"/><text x="2561.5" y="1286">648kB</text></g>
<g id="leaf-64kB" class="leaf"><path d="M2629,1562L2634,1557L2701,1557L2701,1600L2696,1605L2629,1605Z"/><path class="in" d="M2629,1562L2696,1562L2696,1605M2696,1562L2701,1557"/><text x="2662.5" y="1587">64kB</text></g>
</svg>
